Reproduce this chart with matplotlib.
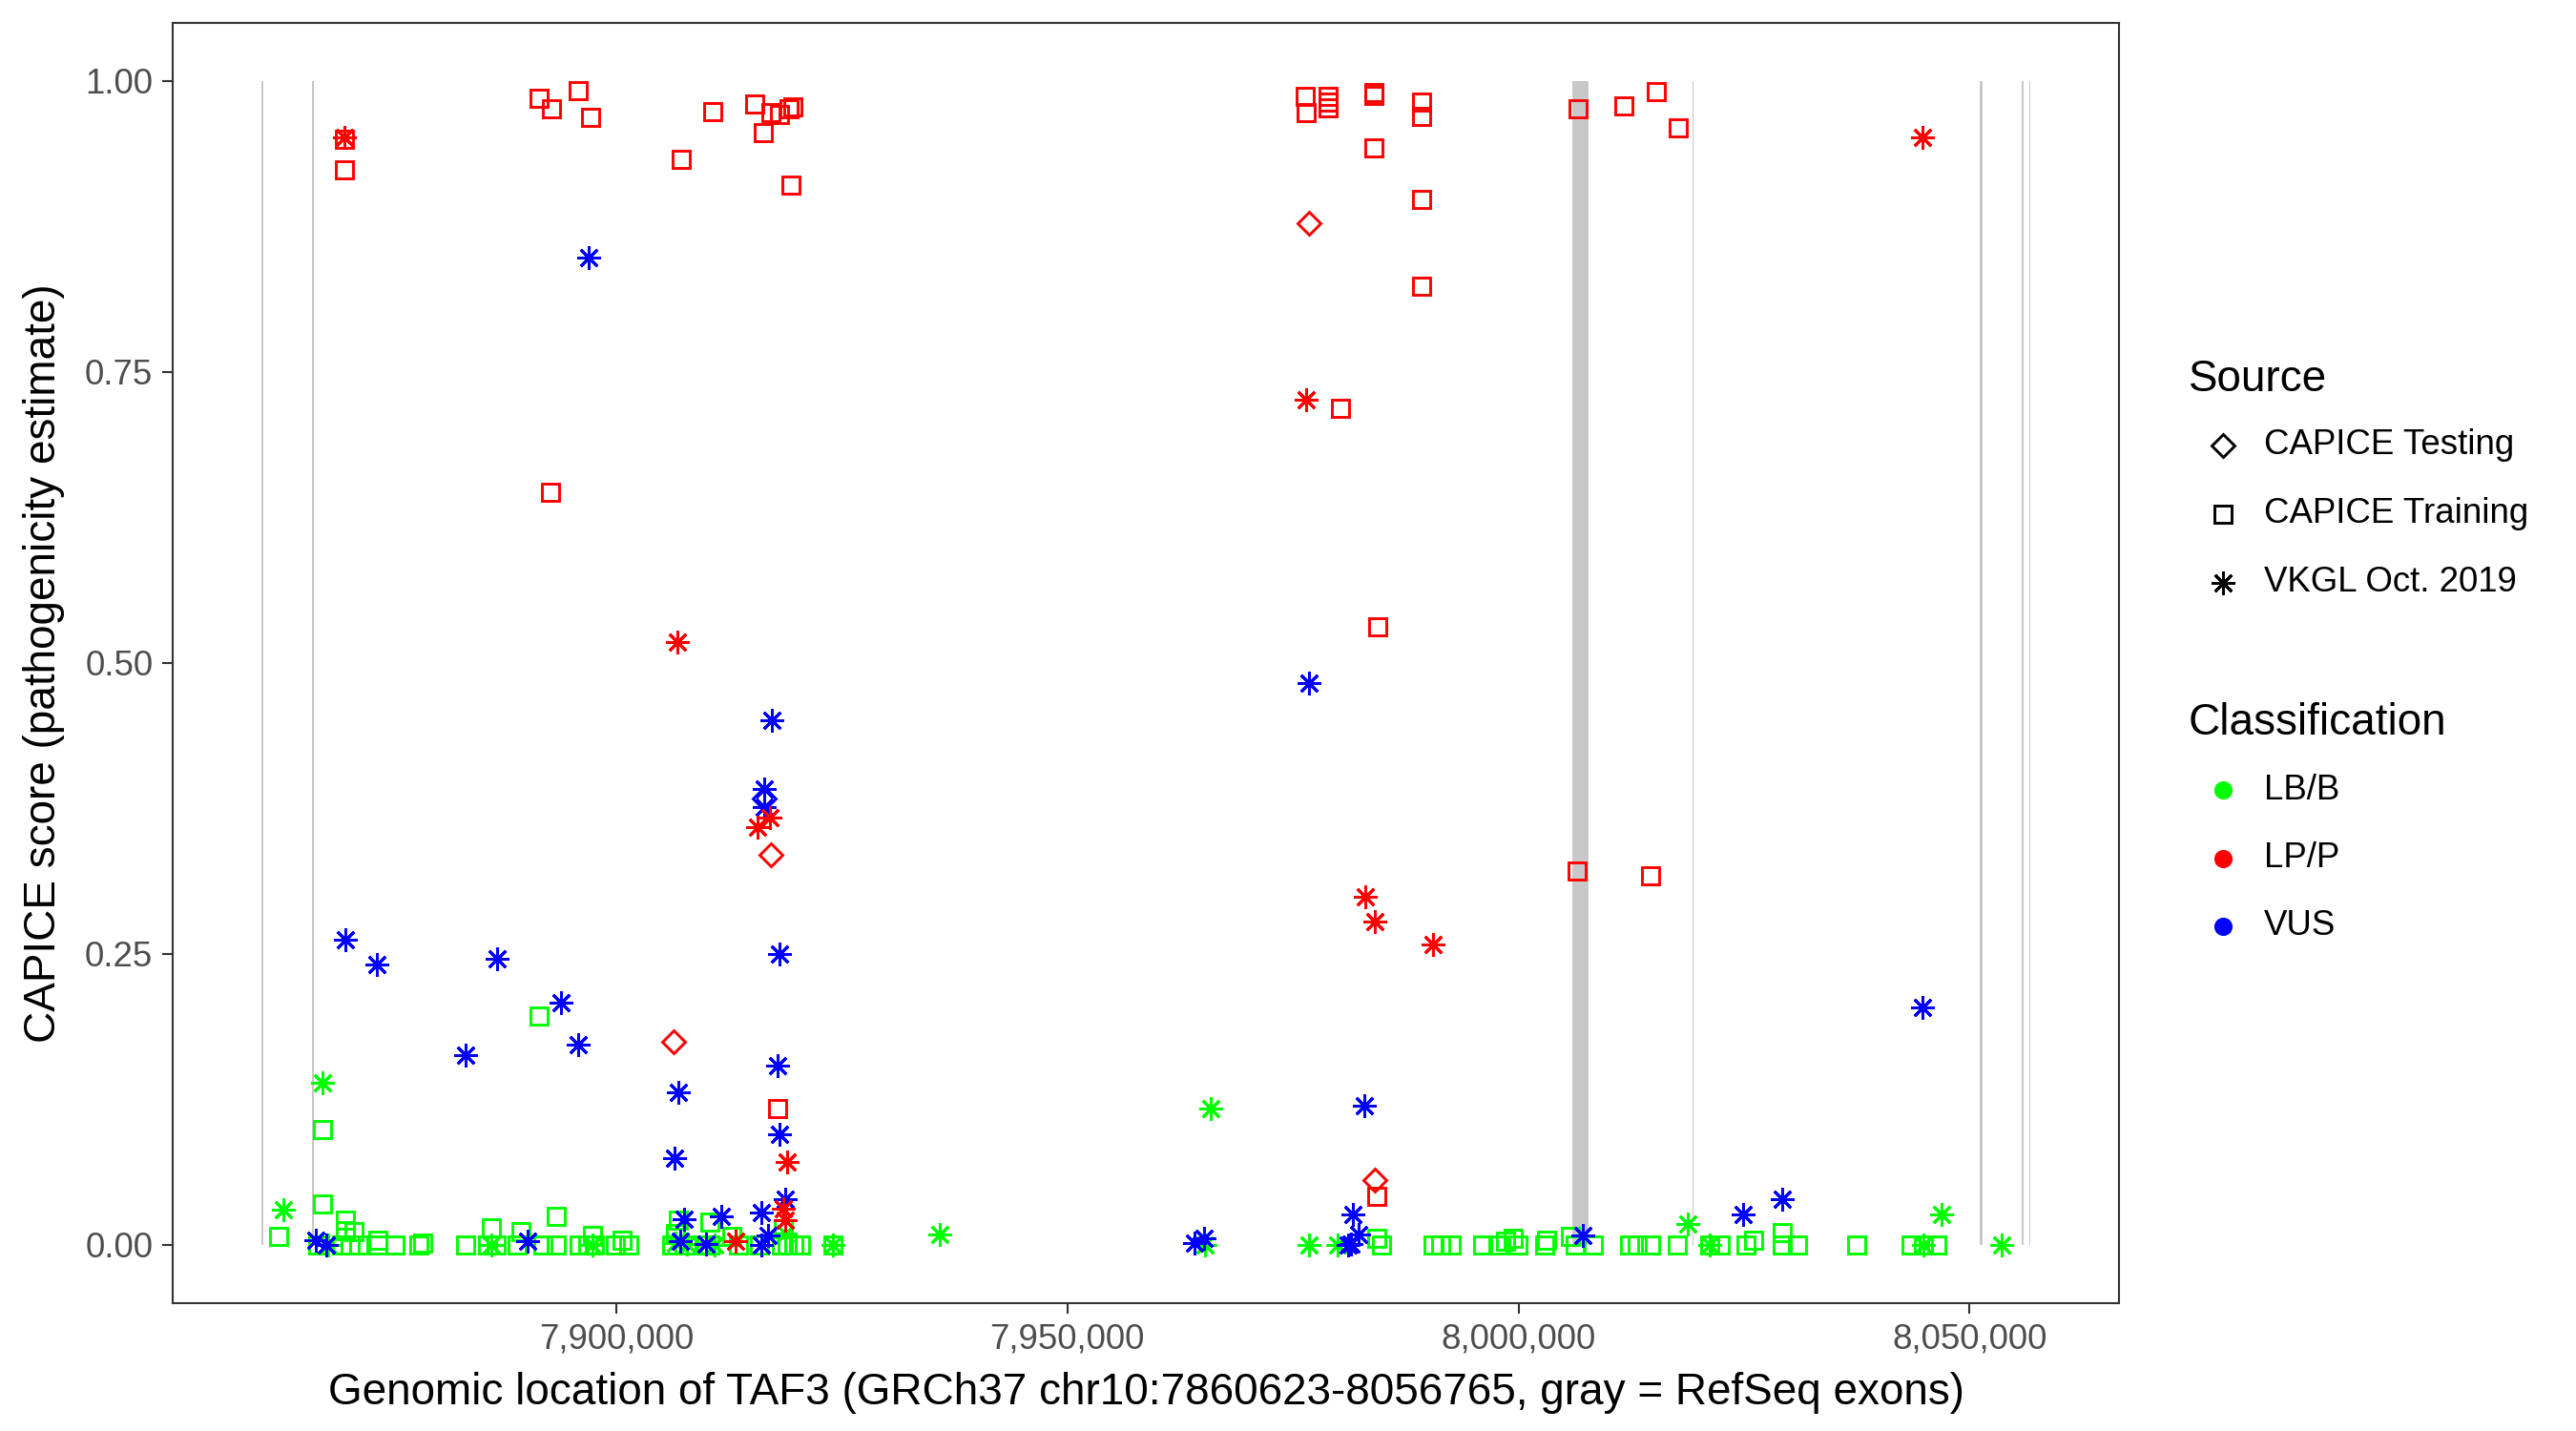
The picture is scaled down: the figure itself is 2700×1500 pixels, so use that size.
import matplotlib
matplotlib.use("Agg")
import matplotlib.pyplot as plt
from matplotlib.lines import Line2D
from matplotlib.ticker import FuncFormatter

plt.rcParams['font.family'] = ['Liberation Sans', 'DejaVu Sans']

# gene and exons (gray bars)
gene_start = 7860623
gene_end = 8056765
exon_starts = [7860623, 7866300, 8005980, 8019290, 8051080, 8055830, 8056600]
exon_ends = [7860850, 7866480, 8007790, 8019450, 8051400, 8055960, 8056765]

# CAPICE Training, LB/B (green squares)
train_lbb_pos = [7862600, 7867450, 7867450, 7866880, 7869490, 7869970, 7869970, 7870540, 7870920,
                 7871400, 7873540, 7873540, 7875440, 7878060, 7878530, 7883290, 7885670, 7886140,
                 7886620, 7888990, 7889470, 7891450, 7891850, 7893280, 7893280, 7895900, 7896850,
                 7897320, 7897560, 7899940, 7900650, 7901360, 7906120, 7906840, 7906600, 7908020,
                 7909690, 7910400, 7910400, 7912780, 7913500, 7915880, 7918260, 7918500, 7918970,
                 7919680, 7920400, 7923960,
                 7984250, 7984830, 7990550, 7991410, 7992550, 7995990, 7997700, 7998560, 7999420,
                 7999990, 8002860, 8003140, 8005720, 8006290, 8008300, 8012300, 8013160, 8014590,
                 8017570, 8021170, 8022320, 8025180, 8026040, 8029190, 8029190, 8030900, 8037490,
                 8043500, 8044930, 8046360]
train_lbb_score = [0.007, 0.099, 0.035, 0.0, 0.0, 0.021, 0.0125, 0.0, 0.0115,
                   0.0, 0.004, 0.0, 0.0, 0.0, 0.002, 0.0, 0.0, 0.0145,
                   0.0, 0.0, 0.0115, 0.197, 0.0, 0.025, 0.0, 0.0, 0.0,
                   0.0085, 0.0, 0.0, 0.004, 0.0, 0.0, 0.021, 0.0098, 0.0,
                   0.0, 0.0195, 0.0, 0.007, 0.0, 0.0, 0.0, 0.014, 0.0,
                   0.0, 0.0, 0.0,
                   0.006, 0.0, 0.0, 0.0, 0.0, 0.0, 0.0, 0.003, 0.006,
                   0.0, 0.0, 0.004, 0.007, 0.0, 0.0, 0.0, 0.0, 0.0,
                   0.0, 0.0, 0.0, 0.0, 0.004, 0.011, 0.0, 0.0, 0.0,
                   0.0, 0.0, 0.0]

# VKGL Oct. 2019, LB/B (green asterisks)
vkgl_lbb_pos = [7863070, 7867460, 7868070, 7886140, 7897320, 7906600, 7907790, 7910880, 7918700,
                7923960, 7935840, 7965880, 7965300, 7976810, 7979960, 8018770, 8021170, 8044930,
                8046930, 8053520]
vkgl_lbb_score = [0.030, 0.139, 0.0, 0.0, 0.0, 0.002, 0.001, 0.0, 0.010,
                  0.0, 0.009, 0.117, 0.0, 0.0, 0.0, 0.018, 0.0, 0.0,
                  0.026, 0.0]

# VKGL Oct. 2019, VUS (blue asterisks)
vkgl_vus_pos = [7896910, 7917210, 7916400, 7916400, 7918060, 7917880, 7918060, 7918730, 7916110,
                7911590, 7907550, 7906850, 7906500, 7870000, 7873400, 7886730, 7893820, 7895760,
                7883270, 7866640, 7867880, 7890190, 7907070, 7909930, 7916110, 7916830,
                7976830, 7982900, 7981680, 7982250, 7981400, 7981100, 8007150, 8024890, 8029190,
                8044780, 7964070, 7965160]
vkgl_vus_score = [0.848, 0.451, 0.392, 0.376, 0.250, 0.154, 0.095, 0.039, 0.028,
                  0.025, 0.022, 0.131, 0.075, 0.262, 0.241, 0.246, 0.208, 0.172,
                  0.163, 0.004, 0.0, 0.003, 0.003, 0.001, 0.0, 0.008,
                  0.483, 0.120, 0.026, 0.009, 0.001, 0.0, 0.008, 0.026, 0.039,
                  0.204, 0.002, 0.006]

# CAPICE Testing, VUS (blue diamond)
test_vus_pos = [7916400]
test_vus_score = [0.384]

# CAPICE Training, LP/P (red squares)
train_lpp_pos = [7869880, 7869880, 7891455, 7892850, 7895760, 7897090, 7910730, 7907150, 7915330,
                 7916300, 7917150, 7918060, 7919090, 7919570, 7919400, 7892730, 7917880,
                 7976390, 7976490, 7978870, 7978870, 7978870, 7983930, 7983930, 7983930, 7989260,
                 7989260, 7989260, 7989260, 7980260, 7984370, 8006610, 8011680, 8015290, 8017660,
                 8006540, 8014600, 7984280]
train_lpp_score = [0.950, 0.924, 0.985, 0.976, 0.992, 0.969, 0.974, 0.933, 0.980,
                   0.956, 0.973, 0.971, 0.976, 0.978, 0.911, 0.647, 0.117,
                   0.987, 0.973, 0.987, 0.982, 0.977, 0.988, 0.990, 0.943, 0.982,
                   0.970, 0.898, 0.824, 0.719, 0.531, 0.976, 0.979, 0.991, 0.960,
                   0.321, 0.317, 0.042]

# CAPICE Testing, LP/P (red diamonds)
test_lpp_pos = [7906360, 7917100, 7976820, 7984110]
test_lpp_score = [0.175, 0.335, 0.878, 0.056]

# VKGL Oct. 2019, LP/P (red asterisks)
vkgl_lpp_pos = [7869880, 7906730, 7917030, 7915630, 7918970, 7918490, 7918730, 7913260, 7976490,
                7983070, 7984110, 7990530, 8044820]
vkgl_lpp_score = [0.952, 0.518, 0.367, 0.359, 0.071, 0.031, 0.021, 0.003, 0.726,
                  0.299, 0.278, 0.258, 0.952]

GREEN = '#00FF00'
RED = '#FF0000'
BLUE = '#0000FF'
ASTER = (8, 2, 0)
SQ_MS = 4.2
AST_MS = 5.9
MEW = 0.7

W, H = 2700, 1500
fig = plt.figure(figsize=(9, 5), dpi=300)
ax = fig.add_axes([181 / W, 1 - 1366 / H, 2040 / W, 1342 / H])

# exons
ax.bar(exon_starts, [1.0] * len(exon_starts),
       width=[e - s for s, e in zip(exon_starts, exon_ends)],
       bottom=0, align='edge', color='#C8C8C8', linewidth=0, zorder=1)


def pts(x, y, marker, color, ms):
    ax.plot(x, y, linestyle='none', marker=marker, ms=ms, mfc='none',
            mec=color, mew=MEW, zorder=3)


pts(train_lbb_pos, train_lbb_score, 's', GREEN, SQ_MS)
pts(vkgl_lbb_pos, vkgl_lbb_score, ASTER, GREEN, AST_MS)
pts(vkgl_vus_pos, vkgl_vus_score, ASTER, BLUE, AST_MS)
pts(test_vus_pos, test_vus_score, 'D', BLUE, SQ_MS)
pts(train_lpp_pos, train_lpp_score, 's', RED, SQ_MS)
pts(test_lpp_pos, test_lpp_score, 'D', RED, SQ_MS)
pts(vkgl_lpp_pos, vkgl_lpp_score, ASTER, RED, AST_MS)

pad = 0.05 * (gene_end - gene_start)
ax.set_xlim(gene_start - pad, gene_end + pad)
ax.set_ylim(-0.05, 1.05)
ax.set_xticks([7900000, 7950000, 8000000, 8050000])
ax.xaxis.set_major_formatter(FuncFormatter(lambda v, p: f'{int(v):,}'))
ax.set_yticks([0, 0.25, 0.5, 0.75, 1.0])
ax.set_yticklabels(['0.00', '0.25', '0.50', '0.75', '1.00'])
ax.tick_params(length=2.75, width=0.5, color='#333333', labelcolor='#4D4D4D',
               labelsize=8.8, pad=2.2)
for sp in ax.spines.values():
    sp.set_color('#333333')
    sp.set_linewidth(0.5)

ax.set_xlabel('Genomic location of TAF3 (GRCh37 chr10:7860623-8056765, gray = RefSeq exons)',
              fontsize=11, labelpad=4)
ax.set_ylabel('CAPICE score (pathogenicity estimate)', fontsize=11, labelpad=5)

# legends drawn by hand
def fx(px):
    return px / W


def fy(py):
    return 1 - py / H


fig.text(fx(2294), fy(398), 'Source', fontsize=11, va='center', ha='left')
src_items = [('D', SQ_MS, 'CAPICE Testing'), ('s', SQ_MS, 'CAPICE Training'),
             (ASTER, AST_MS, 'VKGL Oct. 2019')]
for i, (m, ms, lab) in enumerate(src_items):
    yy = 467 + i * 72
    fig.add_artist(Line2D([fx(2330)], [fy(yy)], transform=fig.transFigure, marker=m,
                          ms=ms, mfc='none', mec='black', mew=MEW, linestyle='none'))
    fig.text(fx(2373), fy(yy), lab, fontsize=8.8, va='center', ha='left')

fig.text(fx(2294), fy(758), 'Classification', fontsize=11, va='center', ha='left')
cls_items = [(GREEN, 'LB/B'), (RED, 'LP/P'), (BLUE, 'VUS')]
for i, (c, lab) in enumerate(cls_items):
    yy = 828 + i * 71.5
    fig.add_artist(Line2D([fx(2330)], [fy(yy)], transform=fig.transFigure, marker='o',
                          ms=4.6, mfc=c, mec=c, mew=0, linestyle='none'))
    fig.text(fx(2373), fy(yy), lab, fontsize=8.8, va='center', ha='left')

fig.savefig('out.png', dpi=300)
